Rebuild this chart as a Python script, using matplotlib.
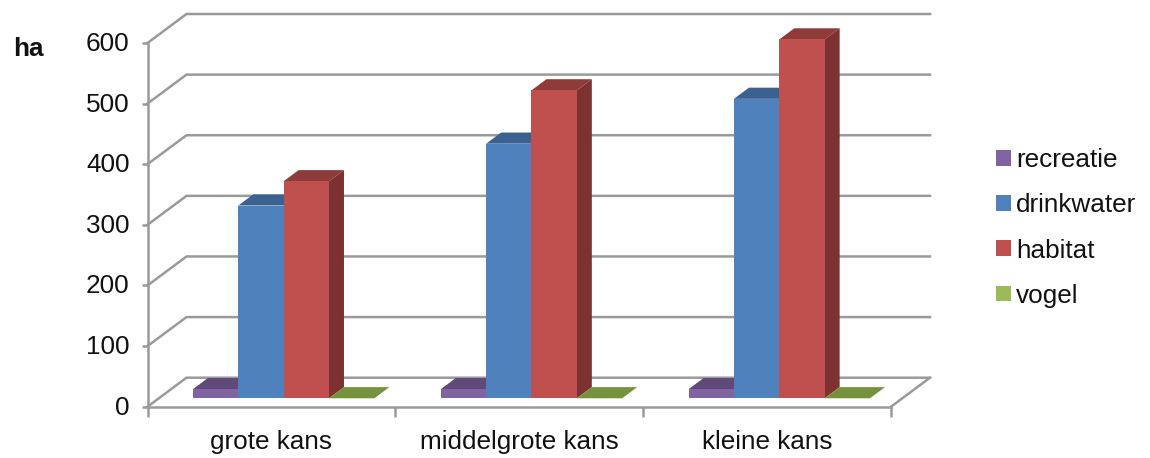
import matplotlib
matplotlib.use("Agg")
import matplotlib.pyplot as plt
from matplotlib.patches import Polygon, Patch
from matplotlib.transforms import ScaledTranslation

plt.rcParams['font.family'] = ['Liberation Sans', 'DejaVu Sans']

categories = ["grote kans", "middelgrote kans", "kleine kans"]
series_names = ["recreatie", "drinkwater", "habitat", "vogel"]
recreatie = [15, 15, 15]
drinkwater = [318, 420, 494]
habitat = [358, 508, 592]
vogel = [0, 0, 0]
y_ticks = [0, 100, 200, 300, 400, 500, 600]

front_colors = ["#8064A2", "#4F81BD", "#C0504D", "#9BBB59"]
top_colors = ["#5F4A7A", "#3B6190", "#8F3B39", "#76923C"]
side_colors = ["#4F3D66", "#315078", "#7D3231", "#627A32"]
GRID = "#9A9A9A"
FS = 18.8

W, H = 1150, 458
fig = plt.figure(figsize=(W / 100, H / 100), dpi=100)
L, R, T, B = 147.5, 891.0, 43.0, 406.7
ax = fig.add_axes([L / W, 1 - B / H, (R - L) / W, (B - T) / H])
ax.set_xlim(0, 3)
ax.set_ylim(0, 600)

# oblique depth vector, in data units per full depth of the floor
DX = 39.0 / ((R - L) / 3)
DY = 600 * 29.0 / (B - T)


def proj(x, v, d):
    return (x + DX * d, v + DY * d)


# walls: gridlines and floor
for v in y_ticks:
    pts = [proj(0, v, 0), proj(0, v, 1), proj(3, v, 1)]
    ax.plot(*zip(*pts), color=GRID, lw=1.8, clip_on=False, zorder=1,
            solid_joinstyle="miter")
ax.plot(*zip(proj(3, 0, 0), proj(3, 0, 1)), color=GRID, lw=1.8, clip_on=False, zorder=1)

# bars
D0, D1 = 0.29, 0.675
BW = 0.183
START = 0.1376
all_series = [recreatie, drinkwater, habitat, vogel]
z = 2
for c in range(len(categories)):
    for s, vals in enumerate(all_series):
        v = vals[c]
        x0 = c + START + s * BW + DX * D0
        x1 = x0 + BW
        base = DY * D0
        ddx = DX * (D1 - D0)
        ddy = DY * (D1 - D0)
        top = base + v
        # top face
        ax.add_patch(Polygon([(x0, top), (x1, top), (x1 + ddx, top + ddy), (x0 + ddx, top + ddy)],
                             facecolor=top_colors[s], edgecolor="none", clip_on=False, zorder=z))
        # side face
        if v > 0:
            ax.add_patch(Polygon([(x1, base), (x1, top), (x1 + ddx, top + ddy), (x1 + ddx, base + ddy)],
                                 facecolor=side_colors[s], edgecolor="none", clip_on=False, zorder=z))
            ax.bar(x0, v, BW, bottom=base, align="edge", color=front_colors[s],
                   linewidth=0, clip_on=False, zorder=z + 0.5)
        z += 1

# axes
for sp in ("top", "right"):
    ax.spines[sp].set_visible(False)
for sp in ("left", "bottom"):
    ax.spines[sp].set_color(GRID)
    ax.spines[sp].set_linewidth(1.8)
    ax.spines[sp].set_zorder(1)
ax.patch.set_visible(False)
ax.set_yticks(y_ticks)
ax.set_xticks([0, 1, 2, 3])
ax.set_xticklabels([])
ax.tick_params(axis="y", length=4, width=1.8, color=GRID, labelsize=FS, pad=9)
ax.tick_params(axis="x", length=7, width=1.8, color=GRID)
ax.set_xticks([0.5, 1.5, 2.5], categories, minor=True)
ax.tick_params(axis="x", which="minor", length=0, labelsize=FS, pad=16.5)
shift = ScaledTranslation(0, 1.5 / 100, fig.dpi_scale_trans)
for lab in ax.get_yticklabels():
    lab.set_color("#111111")
    lab.set_transform(lab.get_transform() + shift)
for lab in ax.get_xticklabels(minor=True):
    lab.set_color("#111111")

fig.text(28 / W, 1 - 49.5 / H, "ha", fontsize=FS, fontweight="bold", ha="center", va="center", color="#111111")

handles = [Patch(facecolor=c, edgecolor="none") for c in front_colors]
fig.legend(handles, series_names, loc="center left", bbox_to_anchor=(996 / W, 1 - 228 / H),
           frameon=False, fontsize=FS, handlelength=0.56, handleheight=0.56,
           handletextpad=0.2, labelspacing=0.81, borderpad=0, borderaxespad=0,
           labelcolor="#111111")

fig.savefig("out.png", dpi=100)
